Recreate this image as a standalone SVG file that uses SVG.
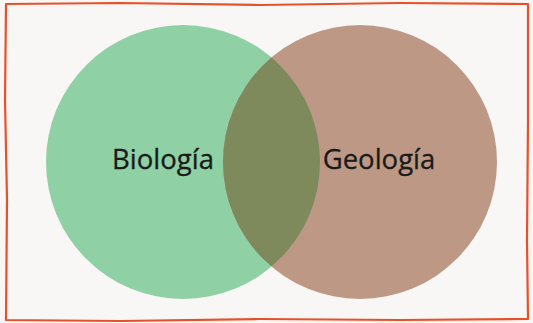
<svg xmlns="http://www.w3.org/2000/svg" width="533" height="323" viewBox="0 0 533 323">
<style>
.lbl{font-family:"Open Sans","Liberation Sans",sans-serif;font-size:27.5px;fill:#1a1a1a;text-anchor:middle;stroke:#1a1a1a;stroke-width:0.3}
.frame{fill:none;stroke:#e8502a;stroke-width:2.2;stroke-linejoin:round}
</style>
<defs>
<clipPath id="cg"><circle cx="183" cy="162" r="137"/></clipPath>
</defs>
<rect width="533" height="323" fill="#f8f7f5"/>
<path class="frame" d="M6,4 L120,3 L260,5 L400,3 L528,4 L528,120 L527,240 L528,319 L400,320 L260,319 L120,321 L6,320 L7,200 L5,100 Z"/>
<g id="biologia">
<circle cx="183" cy="162" r="137" fill="#8fd0a5"/>
</g>
<g id="geologia">
<circle cx="360" cy="162" r="137" fill="#bd9985"/>
</g>
<g id="overlap">
<circle cx="360" cy="162" r="137" fill="#7e8a5c" clip-path="url(#cg)"/>
</g>
<text class="lbl" x="163" y="169">Biología</text>
<text class="lbl" x="379" y="169">Geología</text>
</svg>
